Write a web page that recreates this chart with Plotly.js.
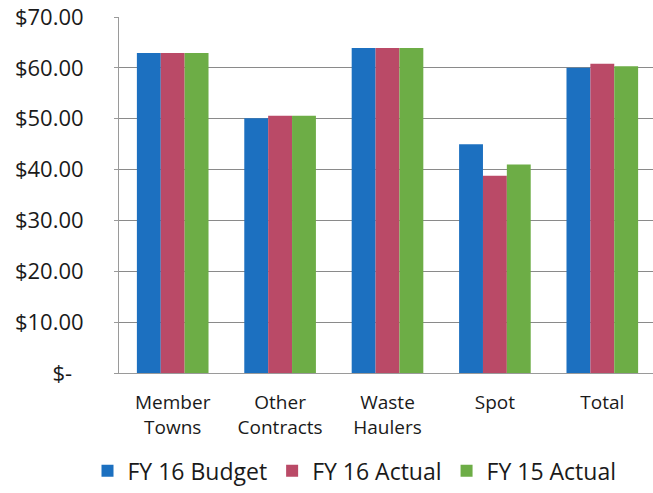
<!DOCTYPE html>
<html>
<head>
<meta charset="utf-8">
<script src="https://cdn.plot.ly/plotly-3.0.1.min.js"></script>
<style>html,body{margin:0;padding:0;background:#fff;}#chart{width:653px;height:493px;}</style>
</head>
<body>
<div id="chart"></div>
<script>
var categories = ["Member<br>Towns", "Other<br>Contracts", "Waste<br>Haulers", "Spot", "Total"];
var seriesNames = ["FY 16 Budget", "FY 16 Actual", "FY 15 Actual"];
var fy16Budget = [62.9, 50.1, 63.9, 45.0, 60.0];
var fy16Actual = [62.9, 50.6, 63.9, 38.8, 60.8];
var fy15Actual = [62.9, 50.6, 63.9, 41.0, 60.3];
var tickVals = [0, 10, 20, 30, 40, 50, 60, 70];
var tickText = ["$-\u00a0\u00a0", "$10.00", "$20.00", "$30.00", "$40.00", "$50.00", "$60.00", "$70.00"];
var colors = ["#1C70C0", "#BA4A67", "#6DAD46"];

var allSeries = [fy16Budget, fy16Actual, fy15Actual];
var traces = allSeries.map(function (vals, i) {
  return {
    type: "bar",
    name: seriesNames[i],
    x: categories,
    y: vals,
    marker: {color: colors[i], line: {width: 0}},
    hoverinfo: "none"
  };
});

var font = "'Open Sans', 'Noto Sans', sans-serif";
var layout = {
  width: 653, height: 493,
  margin: {l: 119, r: 0, t: 17, b: 120, pad: 0},
  paper_bgcolor: "#fff", plot_bgcolor: "#fff",
  barmode: "group", bargap: 0.333, bargroupgap: 0,
  font: {family: font, color: "#1a1a1a"},
  showlegend: true,
  legend: {
    orientation: "h", xref: "container", yref: "container",
    x: 0.134, xanchor: "left", y: 0.045, yanchor: "middle",
    font: {size: 23, family: font, color: "#1a1a1a"},
    itemwidth: 30, tracegroupgap: 0
  },
  xaxis: {
    type: "category",
    range: [-0.5, 4.472],
    showgrid: false, zeroline: false,
    showline: true, linecolor: "#9a9a9a", linewidth: 1,
    ticks: "", tickfont: {size: 19, family: font, color: "#1a1a1a"},
    ticklabelstandoff: 12,
    fixedrange: true
  },
  yaxis: {
    range: [0, 70],
    tickvals: tickVals, ticktext: tickText,
    showgrid: true, gridcolor: "#8a8a8a", gridwidth: 1,
    zeroline: false,
    showline: true, linecolor: "#9a9a9a", linewidth: 1,
    ticks: "outside", ticklen: 4, tickcolor: "#9a9a9a",
    tickfont: {size: 22, family: font, color: "#1a1a1a"},
    ticklabelstandoff: 26,
    fixedrange: true
  }
};

Plotly.newPlot("chart", traces, layout, {staticPlot: true, displayModeBar: false});
</script>
</body>
</html>
